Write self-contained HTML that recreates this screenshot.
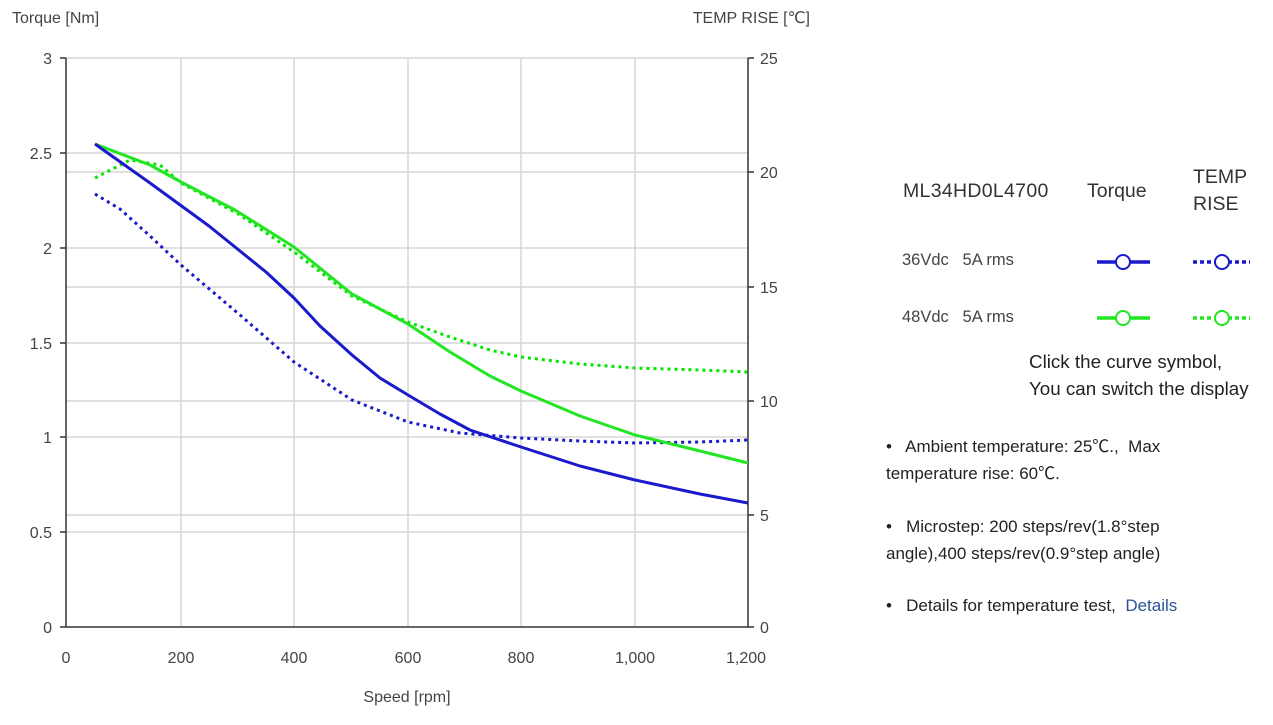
<!DOCTYPE html>
<html><head><meta charset="utf-8"><style>
body{margin:0;background:#fff;width:1273px;height:725px;overflow:hidden;font-family:"Liberation Sans","Noto Sans CJK SC",sans-serif}
.t{position:absolute;color:#333;white-space:nowrap}
</style></head><body>
<svg width="1273" height="725" style="position:absolute;left:0;top:0" font-family="Liberation Sans, DejaVu Sans, sans-serif">
<g stroke="#d6d6d6" stroke-width="1.5">
<line x1="66" y1="58" x2="748" y2="58"/><line x1="66" y1="153" x2="748" y2="153"/><line x1="66" y1="248" x2="748" y2="248"/><line x1="66" y1="343" x2="748" y2="343"/><line x1="66" y1="437" x2="748" y2="437"/><line x1="66" y1="532" x2="748" y2="532"/>
<line x1="66" y1="172" x2="748" y2="172"/><line x1="66" y1="287" x2="748" y2="287"/><line x1="66" y1="401" x2="748" y2="401"/><line x1="66" y1="515" x2="748" y2="515"/>
<line x1="181" y1="58" x2="181" y2="627"/><line x1="294" y1="58" x2="294" y2="627"/><line x1="408" y1="58" x2="408" y2="627"/><line x1="521" y1="58" x2="521" y2="627"/><line x1="635" y1="58" x2="635" y2="627"/>
</g>
<g stroke="#333" stroke-width="1.5">
<line x1="66" y1="58" x2="66" y2="627"/><line x1="748" y1="58" x2="748" y2="627"/><line x1="66" y1="627" x2="748" y2="627"/>
<line x1="60" y1="58" x2="66" y2="58"/><line x1="60" y1="153" x2="66" y2="153"/><line x1="60" y1="248" x2="66" y2="248"/><line x1="60" y1="343" x2="66" y2="343"/><line x1="60" y1="437" x2="66" y2="437"/><line x1="60" y1="532" x2="66" y2="532"/><line x1="60" y1="627" x2="66" y2="627"/>
<line x1="748" y1="58" x2="754" y2="58"/><line x1="748" y1="172" x2="754" y2="172"/><line x1="748" y1="287" x2="754" y2="287"/><line x1="748" y1="401" x2="754" y2="401"/><line x1="748" y1="515" x2="754" y2="515"/><line x1="748" y1="627" x2="754" y2="627"/>
</g>
<g font-size="16" fill="#444" text-anchor="end">
<text x="52" y="64">3</text><text x="52" y="159">2.5</text><text x="52" y="254">2</text><text x="52" y="349">1.5</text><text x="52" y="443">1</text><text x="52" y="538">0.5</text><text x="52" y="633">0</text>
</g>
<g font-size="16" fill="#444">
<text x="760" y="64">25</text><text x="760" y="178">20</text><text x="760" y="293">15</text><text x="760" y="407">10</text><text x="760" y="521">5</text><text x="760" y="633">0</text>
</g>
<g font-size="16" fill="#444" text-anchor="middle">
<text x="66" y="663">0</text><text x="181" y="663">200</text><text x="294" y="663">400</text><text x="408" y="663">600</text><text x="521" y="663">800</text><text x="635" y="663">1,000</text><text x="746" y="663">1,200</text>
<text x="407" y="702">Speed [rpm]</text>
</g>
<text x="12" y="23" font-size="16" fill="#444">Torque  [Nm]</text>
<text x="810" y="23" font-size="16" fill="#444" text-anchor="end">TEMP RISE [℃]</text>
<g fill="none" stroke-width="3" stroke-linejoin="round">
<polyline stroke="#00e600" stroke-dasharray="3 4" points="95,178 130,160 160,165 181,183 240,215 294,252 352,296 408,322 450,337 490,350 521,357 580,364 635,368 700,370 748,372"/>
<polyline stroke="#1a1acc" stroke-dasharray="3 4" points="95,194 120,209 150,236 181,265 240,315 294,362 352,400 408,422 460,433 521,438 580,441 635,443 700,442 748,440"/>
<polyline stroke="#22e622" points="95,144 150,165 181,182 235,210 294,247 352,294 408,324 450,352 490,376 521,391 580,416 635,435 700,451 748,463"/>
<polyline stroke="#1a1acc" points="95,144 150,183 209,226 266,272 294,298 320,326 352,355 380,378 408,395 440,414 470,430 521,447 580,466 635,480 700,494 748,503"/>
</g>
<g stroke-width="3.5">
<line x1="1097" y1="262" x2="1150" y2="262" stroke="#1a1acc"/>
<line x1="1193" y1="262" x2="1250" y2="262" stroke="#1a1acc" stroke-dasharray="4 3"/>
<line x1="1097" y1="318" x2="1150" y2="318" stroke="#22e622"/>
<line x1="1193" y1="318" x2="1250" y2="318" stroke="#22e622" stroke-dasharray="4 3"/>
</g>
<g fill="#fff" stroke-width="2">
<circle cx="1123" cy="262" r="7" stroke="#1a1acc"/><circle cx="1222" cy="262" r="7" stroke="#1a1acc"/>
<circle cx="1123" cy="318" r="7" stroke="#22e622"/><circle cx="1222" cy="318" r="7" stroke="#22e622"/>
</g>
</svg>
<div class="t" style="left:903px;top:180px;font-size:19.5px;letter-spacing:0.3px">ML34HD0L4700</div>
<div class="t" style="left:1087px;top:180px;font-size:19.5px">Torque</div>
<div class="t" style="left:1193px;top:164px;font-size:19.5px;line-height:27px">TEMP<br>RISE</div>
<div class="t" style="left:902px;top:251px;font-size:16.5px;color:#444">36Vdc&nbsp;&nbsp; 5A rms</div>
<div class="t" style="left:902px;top:308px;font-size:16.5px;color:#444">48Vdc&nbsp;&nbsp; 5A rms</div>
<div class="t" style="left:1029px;top:348px;font-size:18.8px;line-height:27px;color:#222">Click the curve symbol,<br>You can switch the display</div>
<div class="t" style="left:886px;top:433px;font-size:17px;line-height:27px;color:#222">•&nbsp;&nbsp; Ambient temperature: 25℃.,&nbsp; Max<br>temperature rise: 60℃.</div>
<div class="t" style="left:886px;top:513px;font-size:17px;line-height:27px;color:#222">•&nbsp;&nbsp; Microstep: 200 steps/rev(1.8°step<br>angle),400 steps/rev(0.9°step angle)</div>
<div class="t" style="left:886px;top:596px;font-size:17px;color:#222">•&nbsp;&nbsp; Details for temperature test,&nbsp; <span style="color:#2a5595">Details</span></div>
</body></html>
